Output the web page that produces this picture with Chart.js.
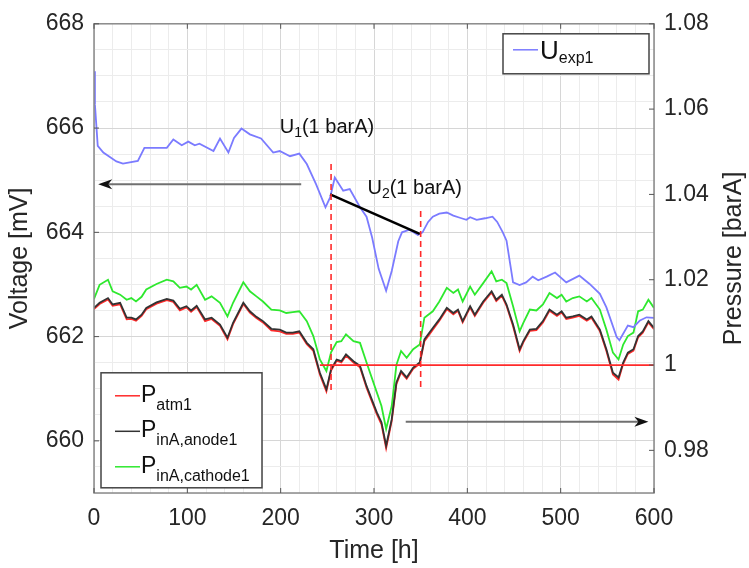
<!DOCTYPE html>
<html>
<head>
<meta charset="utf-8">
<script src="https://cdn.jsdelivr.net/npm/chart.js@4"></script>
<style>
  html, body { margin: 0; padding: 0; background: #fff; }
</style>
</head>
<body>
<canvas id="grafico" width="749" height="568"></canvas>
<script>
// U_exp1 (eixo esquerdo, mV)
const tempoU = [0,1,4,10,24,31,47,54,78,85,94,101,108,113,128,135,144,150,158,167,179,192,199,210,220,228,238,248,253,258,267,274,285,292,298,305,313,319,326,330,338,347,352,358,363,370,378,385,392,399,403,410,419,427,432,438,442,449,456,463,470,476,485,494,506,520,531,542,549,560,563,572,578,585,592,600];
const tensaoU = [667.09,666.45,665.66,665.53,665.36,665.32,665.37,665.62,665.62,665.78,665.67,665.74,665.67,665.70,665.56,665.80,665.53,665.81,665.99,665.88,665.80,665.53,665.56,665.46,665.51,665.31,664.92,664.48,664.67,665.05,664.80,664.83,664.48,664.30,663.90,663.30,662.88,663.26,663.83,664.00,664.05,663.95,664.00,664.20,664.30,664.36,664.38,664.32,664.28,664.24,664.29,664.24,664.27,664.30,664.20,664.00,663.84,663.04,662.99,663.04,663.15,663.08,663.15,663.23,663.04,663.17,663.01,662.82,662.56,661.99,661.93,662.21,662.18,662.31,662.37,662.36];

// pressoes (eixo direito, barA)
const tempoP = [0,6,15,20,28,35,40,45,51,56,67,78,85,92,99,104,110,119,126,135,143,149,160,167,174,181,190,199,206,213,220,228,235,242,249,254,260,265,270,278,285,292,303,308,313,319,324,329,335,342,349,354,363,370,378,385,390,395,403,408,417,426,431,437,442,449,456,460,467,474,481,488,496,501,506,513,520,528,533,542,549,556,562,567,572,578,583,588,594,600];
const pressaoAtm = [1.0131,1.0143,1.0154,1.0139,1.0142,1.0107,1.0108,1.0104,1.0115,1.0131,1.0144,1.0152,1.0148,1.0128,1.0135,1.0125,1.0136,1.0103,1.0108,1.0092,1.0060,1.0096,1.0143,1.0123,1.0110,1.0100,1.0081,1.0079,1.0073,1.0073,1.0076,1.0049,1.0033,0.9978,0.9938,0.9987,1.0010,1.0006,1.0022,1.0006,0.9995,0.9947,0.9885,0.9861,0.9805,0.9869,0.9955,0.9983,0.9968,0.9991,1.0003,1.0056,1.0083,1.0104,1.0131,1.0119,1.0127,1.0100,1.0135,1.0115,1.0146,1.0170,1.0150,1.0162,1.0139,1.0091,1.0033,1.0053,1.0080,1.0082,1.0100,1.0127,1.0115,1.0123,1.0108,1.0111,1.0115,1.0104,1.0111,1.0080,1.0033,0.9978,0.9966,1.0003,1.0026,1.0034,1.0065,1.0076,1.0100,1.0084];
const pressaoAnodo = [1.0134,1.0146,1.0157,1.0142,1.0146,1.0111,1.0111,1.0107,1.0118,1.0134,1.0147,1.0155,1.0151,1.0132,1.0138,1.0128,1.0139,1.0107,1.0111,1.0095,1.0064,1.0099,1.0146,1.0126,1.0113,1.0103,1.0085,1.0083,1.0076,1.0076,1.0079,1.0052,1.0037,0.9982,0.9943,0.9990,1.0013,1.0009,1.0025,1.0009,0.9998,0.9951,0.9889,0.9866,0.9811,0.9873,0.9959,0.9986,0.9971,0.9994,1.0006,1.0060,1.0087,1.0107,1.0134,1.0122,1.0130,1.0103,1.0138,1.0118,1.0149,1.0173,1.0153,1.0165,1.0142,1.0095,1.0037,1.0056,1.0083,1.0085,1.0103,1.0130,1.0118,1.0126,1.0111,1.0114,1.0118,1.0107,1.0114,1.0083,1.0037,0.9982,0.9971,1.0006,1.0029,1.0037,1.0068,1.0079,1.0103,1.0087];
const pressaoCatodo = [1.0155,1.0188,1.0200,1.0173,1.0165,1.0153,1.0157,1.0149,1.0160,1.0177,1.0190,1.0200,1.0196,1.0181,1.0184,1.0177,1.0188,1.0153,1.0161,1.0146,1.0114,1.0146,1.0194,1.0173,1.0161,1.0149,1.0130,1.0128,1.0122,1.0124,1.0126,1.0103,1.0068,1.0013,0.9986,1.0030,1.0054,1.0056,1.0072,1.0056,1.0052,1.0006,0.9936,0.9904,0.9850,0.9904,1.0000,1.0033,1.0017,1.0037,1.0048,1.0111,1.0126,1.0149,1.0181,1.0169,1.0177,1.0149,1.0184,1.0165,1.0192,1.0220,1.0196,1.0200,1.0192,1.0138,1.0079,1.0099,1.0130,1.0128,1.0142,1.0169,1.0157,1.0165,1.0149,1.0157,1.0161,1.0149,1.0157,1.0130,1.0083,1.0029,1.0013,1.0048,1.0068,1.0076,1.0126,1.0130,1.0153,1.0134];

// rotulos dos eixos
const ticksTempo = [0, 100, 200, 300, 400, 500, 600];
const ticksTensao = [660, 662, 664, 666, 668];
const ticksPressao = [0.98, 1, 1.02, 1.04, 1.06, 1.08];

// anotacoes (coordenadas de dados)
const tracoU1 = [254, 665.31, 660.97];   // tempo, topo, base (mV)
const tracoU2 = [350, 664.41, 660.97];
const retaU = [[253, 664.73], [349, 663.97]];
const patm1bar = [242, 600, 1.0];        // inicio, fim, pressao
const setaEsq = [222, 4.5, 664.92];      // de, ate, mV
const setaDir = [334, 594, 0.9867];      // de, ate, barA
const rotuloU1 = [199, 665.91];
const rotuloU2 = [293, 664.73];

const FONTE = "'Liberation Sans', Arial, sans-serif";
const CINZA_TXT = '#262626';

function pares(xs, ys) {
  return xs.map((x, i) => ({ x: x, y: ys[i] }));
}

function textoSub(ctx, x, y, partes) {
  let cx = x;
  partes.forEach(([t, tam, dy]) => {
    ctx.font = tam + 'px ' + FONTE;
    ctx.fillText(t, cx, y + dy);
    cx += ctx.measureText(t).width;
  });
}

function seta(ctx, x1, y1, x2, y2) {
  const ang = Math.atan2(y2 - y1, x2 - x1);
  const c = Math.cos(ang), s = Math.sin(ang);
  ctx.strokeStyle = '#707070';
  ctx.lineWidth = 2;
  ctx.beginPath();
  ctx.moveTo(x1, y1);
  ctx.lineTo(x2 - 8 * c, y2 - 8 * s);
  ctx.stroke();
  ctx.fillStyle = '#111';
  ctx.beginPath();
  ctx.moveTo(x2, y2);
  ctx.lineTo(x2 - 14 * c + 5 * s, y2 - 14 * s - 5 * c);
  ctx.lineTo(x2 - 10 * c, y2 - 10 * s);
  ctx.lineTo(x2 - 14 * c - 5 * s, y2 - 14 * s + 5 * c);
  ctx.closePath();
  ctx.fill();
}

const desenhos = {
  id: 'desenhos',
  afterDatasetsDraw(chart) {
    const { ctx, chartArea: a, scales } = chart;
    const x = scales.x, yV = scales.yV, yP = scales.yP;
    ctx.save();

    // setas
    seta(ctx, x.getPixelForValue(setaEsq[0]), yV.getPixelForValue(setaEsq[2]),
      x.getPixelForValue(setaEsq[1]), yV.getPixelForValue(setaEsq[2]));
    seta(ctx, x.getPixelForValue(setaDir[0]), yP.getPixelForValue(setaDir[2]),
      x.getPixelForValue(setaDir[1]), yP.getPixelForValue(setaDir[2]));

    // rotulos U1 / U2
    ctx.fillStyle = '#111';
    ctx.textBaseline = 'alphabetic';
    textoSub(ctx, x.getPixelForValue(rotuloU1[0]), yV.getPixelForValue(rotuloU1[1]),
      [['U', 20, 0], ['1', 14, 4], ['(1 barA)', 20, 0]]);
    textoSub(ctx, x.getPixelForValue(rotuloU2[0]), yV.getPixelForValue(rotuloU2[1]),
      [['U', 20, 0], ['2', 14, 4], ['(1 barA)', 20, 0]]);

    // moldura dos eixos
    ctx.strokeStyle = '#8a8a8a';
    ctx.lineWidth = 1.5;
    ctx.strokeRect(a.left, a.top, a.right - a.left, a.bottom - a.top);

    // marcas internas
    ctx.strokeStyle = '#555';
    ctx.lineWidth = 1;
    ctx.beginPath();
    ticksTensao.forEach(v => {
      const py = yV.getPixelForValue(v);
      ctx.moveTo(a.left, py); ctx.lineTo(a.left + 5, py);
    });
    ticksPressao.forEach(v => {
      const py = yP.getPixelForValue(v);
      ctx.moveTo(a.right, py); ctx.lineTo(a.right - 5, py);
    });
    ticksTempo.forEach(v => {
      const px = x.getPixelForValue(v);
      ctx.moveTo(px, a.bottom); ctx.lineTo(px, a.bottom - 5);
      ctx.moveTo(px, a.top); ctx.lineTo(px, a.top + 5);
    });
    ctx.stroke();

    // legenda 1 (U_exp1)
    const l1x = a.right - 151, l1y = a.top + 10;
    ctx.fillStyle = '#fff';
    ctx.fillRect(l1x, l1y, 146, 40);
    ctx.strokeStyle = '#444';
    ctx.lineWidth = 1.5;
    ctx.strokeRect(l1x, l1y, 146, 40);
    ctx.strokeStyle = '#7b7bff';
    ctx.lineWidth = 1.5;
    ctx.beginPath();
    ctx.moveTo(l1x + 10, l1y + 16); ctx.lineTo(l1x + 35, l1y + 16);
    ctx.stroke();
    ctx.fillStyle = '#111';
    textoSub(ctx, l1x + 37, l1y + 25, [['U', 26, 0], ['exp1', 16, 4]]);

    // legenda 2 (pressoes)
    const l2x = a.left + 7, l2y = a.top + 349;
    ctx.fillStyle = '#fff';
    ctx.fillRect(l2x, l2y, 161, 115);
    ctx.strokeStyle = '#444';
    ctx.lineWidth = 1.5;
    ctx.strokeRect(l2x, l2y, 161, 115);
    const itens = [
      ['#ff2a2a', 'atm1'],
      ['#333333', 'inA,anode1'],
      ['#2ee82e', 'inA,cathode1']
    ];
    itens.forEach(([cor, sub], i) => {
      const ly = l2y + 23 + i * 35.5;
      ctx.strokeStyle = cor;
      ctx.lineWidth = 1.5;
      ctx.beginPath();
      ctx.moveTo(l2x + 14, ly); ctx.lineTo(l2x + 39, ly);
      ctx.stroke();
      ctx.fillStyle = '#111';
      textoSub(ctx, l2x + 40, ly + 6, [['P', 23, 0], [sub, 16, 8]]);
    });

    ctx.restore();
  },
  afterDraw(chart) {
    // titulo do eixo direito, lido de baixo para cima
    const { ctx, chartArea: a } = chart;
    ctx.save();
    ctx.translate(734, (a.top + a.bottom) / 2);
    ctx.rotate(-Math.PI / 2);
    ctx.fillStyle = CINZA_TXT;
    ctx.font = '25px ' + FONTE;
    ctx.textAlign = 'center';
    ctx.textBaseline = 'middle';
    ctx.fillText('Pressure [barA]', 0, 0);
    ctx.restore();
  }
};

const fixaLargura = (w) => (scale) => { scale.width = w; };

new Chart(document.getElementById('grafico'), {
  type: 'line',
  data: {
    datasets: [
      {
        data: pares(tempoU, tensaoU), yAxisID: 'yV',
        borderColor: '#7b7bff', borderWidth: 1.8, order: 1
      },
      {
        data: pares(tempoP, pressaoAnodo), yAxisID: 'yP',
        borderColor: '#333333', borderWidth: 1.8, order: 2
      },
      {
        data: pares(tempoP, pressaoAtm), yAxisID: 'yP',
        borderColor: '#ff2a2a', borderWidth: 1.8, order: 3
      },
      {
        data: pares(tempoP, pressaoCatodo), yAxisID: 'yP',
        borderColor: '#2ee82e', borderWidth: 1.8, order: 4
      },
      {
        data: [{ x: patm1bar[0], y: patm1bar[2] }, { x: patm1bar[1], y: patm1bar[2] }], yAxisID: 'yP',
        borderColor: '#ff2a2a', borderWidth: 1.8, order: 0
      },
      {
        data: [{ x: tracoU1[0], y: tracoU1[1] }, { x: tracoU1[0], y: tracoU1[2] }], yAxisID: 'yV',
        borderColor: '#ff2a2a', borderWidth: 1.6, borderDash: [6, 4], order: 0
      },
      {
        data: [{ x: tracoU2[0], y: tracoU2[1] }, { x: tracoU2[0], y: tracoU2[2] }], yAxisID: 'yV',
        borderColor: '#ff2a2a', borderWidth: 1.6, borderDash: [6, 4], order: 0
      },
      {
        data: retaU.map(p => ({ x: p[0], y: p[1] })), yAxisID: 'yV',
        borderColor: '#000', borderWidth: 2.5, order: 0
      }
    ]
  },
  options: {
    responsive: false,
    animation: false,
    parsing: false,
    elements: { point: { radius: 0 }, line: { tension: 0 } },
    layout: { padding: { top: 22, left: 0, right: 0, bottom: 0 } },
    plugins: { legend: { display: false }, tooltip: { enabled: false } },
    scales: {
      x: {
        type: 'linear', min: 0, max: 600,
        afterFit: (s) => { s.height = 75; },
        ticks: {
          stepSize: 20, autoSkip: false, maxRotation: 0, padding: 12,
          color: CINZA_TXT, font: { family: FONTE, size: 23 },
          callback: (v) => ticksTempo.includes(v) ? String(v) : ''
        },
        grid: {
          drawTicks: false,
          color: (c) => (c.tick && c.tick.value % 100 === 0) ? '#d6d6d6' : '#ececec'
        },
        border: { display: false },
        title: {
          display: true, text: 'Time [h]', color: CINZA_TXT,
          font: { family: FONTE, size: 25 }, padding: { top: 0, bottom: 2 }
        }
      },
      yV: {
        type: 'linear', position: 'left', min: 659, max: 668,
        afterFit: fixaLargura(94),
        ticks: {
          stepSize: 0.5, autoSkip: false, padding: 10,
          color: CINZA_TXT, font: { family: FONTE, size: 23 },
          callback: (v) => ticksTensao.includes(v) ? String(v) : ''
        },
        grid: {
          drawTicks: false,
          color: (c) => (c.tick && ticksTensao.includes(c.tick.value)) ? '#d6d6d6' : '#ececec'
        },
        border: { display: false },
        title: {
          display: true, text: 'Voltage [mV]', color: CINZA_TXT,
          font: { family: FONTE, size: 25 }, padding: { top: 5, bottom: 0 }
        }
      },
      yP: {
        type: 'linear', position: 'right', min: 0.97, max: 1.08,
        afterFit: fixaLargura(95),
        afterBuildTicks: (s) => { s.ticks = ticksPressao.map(v => ({ value: v })); },
        ticks: {
          autoSkip: false, padding: 10,
          color: CINZA_TXT, font: { family: FONTE, size: 23 },
          callback: (v) => String(v)
        },
        grid: { display: false, drawTicks: false },
        border: { display: false },
        title: { display: false }
      }
    }
  },
  plugins: [desenhos]
});
</script>
</body>
</html>
